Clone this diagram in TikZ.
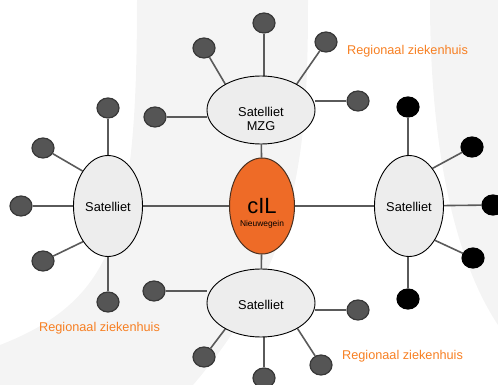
\documentclass[tikz,border=0pt]{standalone}
\usepackage{fontspec}
\setmainfont{Liberation Sans}
\usetikzlibrary{shapes.geometric}
\definecolor{bggrey}{HTML}{F4F4F4}
\definecolor{cilorange}{HTML}{EE6B27}
\definecolor{laborange}{HTML}{F77F22}
\definecolor{satfill}{HTML}{EDEDED}
\definecolor{dotfill}{HTML}{555555}
\definecolor{dotdraw}{HTML}{383838}
\definecolor{linegrey}{HTML}{5A5A5A}
\definecolor{cilborder}{HTML}{4A3020}
\pgfdeclarelayer{bg}
\pgfdeclarelayer{lines}
\pgfsetlayers{bg,lines,main}
\begin{document}
\begin{tikzpicture}[x=1pt,y=-1pt,
 satnode/.style={ellipse, draw=black, line width=0.9pt, fill=satfill, inner sep=0pt},
 hsat/.style={satnode, minimum width=108pt, minimum height=68pt},
 vsat/.style={satnode, minimum width=69pt, minimum height=101pt},
 cilnode/.style={ellipse, draw=cilborder, line width=1pt, fill=cilorange, minimum width=65pt, minimum height=96pt, inner sep=0pt},
 hubdot/.style={ellipse, fill=dotfill, draw=dotdraw, line width=1.2pt, minimum width=22pt, minimum height=20pt, inner sep=0pt},
 bdot/.style={hubdot, fill=black, draw=black},
 conn/.style={draw=linegrey, line width=1.6pt},
 sattext/.style={font=\fontsize{12.8}{14}\selectfont, anchor=base, inner sep=0pt},
 regtext/.style={font=\fontsize{12.7}{14}\selectfont, text=laborange, anchor=base west, inner sep=0pt},
]
\useasboundingbox (0,0) rectangle (498,385);
\begin{pgfonlayer}{bg}
\fill[bggrey] (137,0) -- (308,0) .. controls (308,150) and (300,260) .. (193,385) -- (0,385) -- (0,345) .. controls (115,300) and (137,230) .. (137,0) -- cycle;
\fill[bggrey] (430,0) .. controls (430,150) and (455,260) .. (498,325) -- (498,0) -- cycle;
\end{pgfonlayer}

% main nodes
\node[cilnode] (cil) at (262,206) {};
\node[hsat] (tsat) at (261,110) {};
\node[hsat] (bsat) at (261,303) {};
\node[vsat] (lsat) at (108,206) {};
\node[vsat] (rsat) at (409,206) {};

% texts
\node[sattext] (tsat1) at (261,116.5) {Satelliet};
\node[sattext] (tsat2) at (261,131) {MZG};
\node[sattext] (lsatt) at (108,211) {Satelliet};
\node[sattext] (rsatt) at (409,211) {Satelliet};
\node[sattext] (bsatt) at (261,309.5) {Satelliet};
\node[font=\fontsize{22}{22}\selectfont, anchor=base, inner sep=0pt] (cilt) at (262,213) {cIL};
\node[font=\fontsize{8.4}{9}\selectfont, anchor=base, inner sep=0pt] (cilsub) at (262,226) {Nieuwegein};

% dots top
\node[hubdot] (tT) at (264,23) {};
\node[hubdot] (tUL) at (204,48) {};
\node[hubdot] (tUR) at (326,42) {};
\node[hubdot] (tR) at (358,101) {};
\node[hubdot] (tL) at (155,117) {};
% dots left
\node[hubdot] (lT) at (108,108) {};
\node[hubdot] (lUL) at (43,148) {};
\node[hubdot] (lL) at (21,206) {};
\node[hubdot] (lLL) at (43,261) {};
\node[hubdot] (lB) at (108,302) {};
% dots right
\node[bdot] (rT) at (408,107) {};
\node[bdot] (rUR) at (472,147) {};
\node[bdot] (rR) at (493,205) {};
\node[bdot] (rLR) at (473,258) {};
\node[bdot] (rB) at (408,299) {};
% dots bottom
\node[hubdot] (bL) at (154,291) {};
\node[hubdot] (bR) at (358,310) {};
\node[hubdot] (bLL) at (204,357) {};
\node[hubdot] (bB) at (264,378) {};
\node[hubdot] (bLR) at (321,365) {};

\begin{pgfonlayer}{lines}
\draw[conn] (tsat) -- (cil);
\draw[conn] (cil) -- (bsat);
\draw[conn] (lsat) -- (cil);
\draw[conn] (cil) -- (rsat);
% top
\draw[conn] (tT) -- (tT |- tsat.north);
\draw[conn] (tsat.144) -- (tUL);
\draw[conn] (tsat.36) -- (tUR);
\draw[conn] (tR) -- (tR -| tsat.east);
\draw[conn] (tL) -- (tL -| tsat.west);
% left
\draw[conn] (lT) -- (lsat.north);
\draw[conn] (lsat.126) -- (lUL);
\draw[conn] (lL) -- (lsat);
\draw[conn] (lsat.235) -- (lLL);
\draw[conn] (lB) -- (lsat.south);
% right
\draw[conn] (rT) -- (rT |- rsat.north);
\draw[conn] (rsat.58) -- (rUR);
\draw[conn] (rsat) -- (rR);
\draw[conn] (rsat.307) -- (rLR);
\draw[conn] (rB) -- (rB |- rsat.south);
% bottom
\draw[conn] (bL) -- (bL -| bsat.west);
\draw[conn] (bR) -- (bR -| bsat.east);
\draw[conn] (bsat.216) -- (bLL);
\draw[conn] (bB) -- (bB |- bsat.south);
\draw[conn] (bsat.325) -- (bLR);
\end{pgfonlayer}

\node[regtext] (reg1) at (347,54.8) {Regionaal ziekenhuis};
\node[regtext] (reg2) at (39,331.4) {Regionaal ziekenhuis};
\node[regtext] (reg3) at (342,359) {Regionaal ziekenhuis};
\end{tikzpicture}
\end{document}
